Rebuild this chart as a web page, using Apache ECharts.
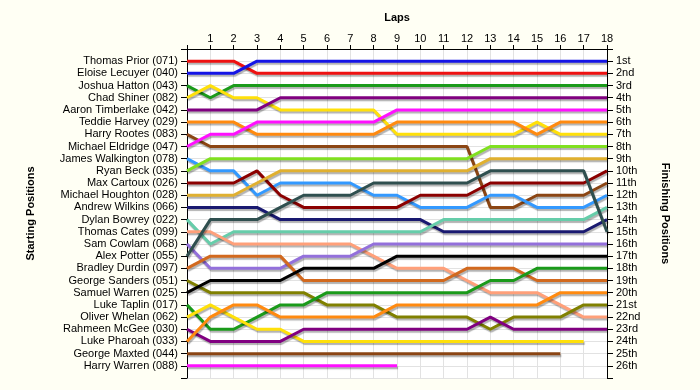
<!DOCTYPE html>
<html>
<head>
<meta charset="utf-8">
<script src="https://cdn.jsdelivr.net/npm/echarts@6/dist/echarts.min.js"></script>
<style>
html,body{margin:0;padding:0;background:#FFFFF4;}
#c{width:700px;height:390px;}
</style>
</head>
<body>
<div id="c"></div>
<script>
const laps = [0,1,2,3,4,5,6,7,8,9,10,11,12,13,14,15,16,17,18];
const drivers = ["Thomas Prior (071)","Eloise Lecuyer (040)","Joshua Hatton (043)","Chad Shiner (082)","Aaron Timberlake (042)","Teddie Harvey (029)","Harry Rootes (083)","Michael Eldridge (047)","James Walkington (078)","Ryan Beck (035)","Max Cartoux (026)","Michael Houghton (028)","Andrew Wilkins (066)","Dylan Bowrey (022)","Thomas Cates (099)","Sam Cowlam (068)","Alex Potter (055)","Bradley Durdin (097)","George Sanders (051)","Samuel Warren (025)","Luke Taplin (017)","Oliver Whelan (062)","Rahmeen McGee (030)","Luke Pharoah (033)","George Maxted (044)","Harry Warren (088)"];
const finishLabels = ["1st","2nd","3rd","4th","5th","6th","7th","8th","9th","10th","11th","12th","13th","14th","15th","16th","17th","18th","19th","20th","21st","22nd","23rd","24th","25th","26th"];

// lap-by-lap positions (lap 0 = grid)
const prior      = [1,1,1,2,2,2,2,2,2,2,2,2,2,2,2,2,2,2,2];
const lecuyer    = [2,2,2,1,1,1,1,1,1,1,1,1,1,1,1,1,1,1,1];
const hatton     = [3,4,3,3,3,3,3,3,3,3,3,3,3,3,3,3,3,3,3];
const shiner     = [4,3,4,4,5,5,5,5,5,7,7,7,7,7,7,6,7,7,7];
const timberlake = [5,5,5,5,4,4,4,4,4,4,4,4,4,4,4,4,4,4,4];
const harvey     = [6,6,6,7,7,7,7,7,7,6,6,6,6,6,6,7,6,6,6];
const rootes     = [7,8,8,8,8,8,8,8,8,8,8,8,8,13,13,12,12,12,11];
const eldridge   = [8,7,7,6,6,6,6,6,6,5,5,5,5,5,5,5,5,5,5];
const walkington = [9,10,10,12,11,11,11,11,12,12,13,13,13,12,12,13,13,13,12];
const beck       = [10,9,9,9,9,9,9,9,9,9,9,9,9,8,8,8,8,8,8];
const cartoux    = [11,11,11,10,12,13,13,13,13,13,12,12,12,11,11,11,11,11,10];
const houghton   = [12,12,12,11,10,10,10,10,10,10,10,10,10,9,9,9,9,9,9];
const wilkins    = [13,13,13,13,14,14,14,14,14,14,14,15,15,15,15,15,15,15,14];
const bowrey     = [14,16,15,15,15,15,15,15,15,15,15,14,14,14,14,14,14,14,13];
const cates      = [15,15,16,16,16,16,16,16,17,18,18,18,19,20,20,20,21,22,22];
const cowlam     = [16,18,18,18,18,17,17,17,16,16,16,16,16,16,16,16,16,16,16];
const potter     = [17,14,14,14,13,12,12,12,11,11,11,11,11,10,10,10,10,10,15];
const durdin     = [18,17,17,17,17,19,19,19,19,19,19,19,18,18,18,19,19,19,19];
const sanders    = [19,20,20,20,20,20,21,21,21,22,22,22,22,23,22,22,22,21,21];
const swarren    = [20,19,19,19,19,18,18,18,18,17,17,17,17,17,17,17,17,17,17];
const taplin     = [21,23,23,22,21,21,20,20,20,20,20,20,20,19,19,18,18,18,18];
const whelan     = [22,21,22,23,23,24,24,24,24,24,24,24,24,24,24,24,24,24];
const mcgee      = [23,24,24,24,24,23,23,23,23,23,23,23,23,22,23,23,23,23,23];
const pharoah    = [24,22,21,21,22,22,22,22,22,21,21,21,21,21,21,21,20,20,20];
const maxted     = [25,25,25,25,25,25,25,25,25,25,25,25,25,25,25,25,25];
const hwarren    = [26,26,26,26,26,26,26,26,26,26];

const racePositions = [prior,lecuyer,hatton,shiner,timberlake,harvey,rootes,eldridge,walkington,beck,cartoux,houghton,wilkins,bowrey,cates,cowlam,potter,durdin,sanders,swarren,taplin,whelan,mcgee,pharoah,maxted,hwarren];

const lineColors = ["#EE1111","#1414E6","#1A9A1A","#FFE00A","#800080","#FF8A10","#8B4513","#FF10FF","#3399FF","#80E020","#8B0000","#E0B030","#191970","#66CDAA","#FFA07A","#9370DB","#2F4F4F","#D2691E","#808000","#000000","#1A9A1A","#FFE00A","#800080","#FF8A10","#8B4513","#FF10FF"];

const chart = echarts.init(document.getElementById('c'), null, {renderer:'canvas'});
const font = 'Liberation Sans, Arial, sans-serif';
const series = racePositions.map((arr, i) => ({
  name: drivers[i],
  type: 'line',
  data: arr.map((p, lap) => [laps[lap], p]),
  symbol: 'none',
  animation: false,
  lineStyle: {
    color: lineColors[i], width: 3,
    shadowColor: 'rgba(0,0,0,0.3)', shadowOffsetX: 1, shadowOffsetY: 2, shadowBlur: 1
  },
  z: 3
}));

chart.setOption({
  backgroundColor: '#FFFFF4',
  animation: false,
  grid: {left: 187, right: 93, top: 49, bottom: 12, show: true, backgroundColor: '#ffffff', borderWidth: 0},
  xAxis: {
    type: 'value', position: 'top', min: 0, max: 18, interval: 1,
    name: 'Laps', nameLocation: 'middle', nameGap: 26,
    nameTextStyle: {fontFamily: font, fontSize: 11, fontWeight: 'bold', color: '#000'},
    axisLine: {show: true, lineStyle: {color: '#000', width: 1}},
    axisTick: {show: true, length: 4, lineStyle: {color: '#000'}},
    axisLabel: {fontFamily: font, fontSize: 11, color: '#000', margin: 5,
      formatter: v => v === 0 ? '' : String(v)},
    splitLine: {show: true, lineStyle: {color: '#e2e2e2', width: 1}}
  },
  yAxis: [{
    type: 'value', inverse: true, min: 0, max: 27, interval: 1, position: 'left',
    name: 'Starting Positions', nameLocation: 'middle', nameGap: 151, nameRotate: 90,
    nameTextStyle: {fontFamily: font, fontSize: 11, fontWeight: 'bold', color: '#000'},
    axisLine: {show: true, lineStyle: {color: '#000', width: 1}},
    axisTick: {show: true, length: 6, lineStyle: {color: '#000'}},
    axisLabel: {fontFamily: font, fontSize: 11, color: '#000', margin: 9,
      formatter: v => drivers[v - 1] || ''},
    splitLine: {show: true, lineStyle: {color: '#e2e2e2', width: 1}}
  }, {
    type: 'value', inverse: true, min: 0, max: 27, interval: 1, position: 'right',
    name: 'Finishing Positions', nameLocation: 'middle', nameGap: 53, nameRotate: -90,
    nameTextStyle: {fontFamily: font, fontSize: 11, fontWeight: 'bold', color: '#000'},
    axisLine: {show: true, lineStyle: {color: '#000', width: 1}},
    axisTick: {show: true, length: 6, lineStyle: {color: '#000'}},
    axisLabel: {fontFamily: font, fontSize: 11, color: '#000', margin: 9,
      formatter: v => finishLabels[v - 1] || ''},
    splitLine: {show: false}
  }],
  series: series
});
</script>
</body>
</html>
